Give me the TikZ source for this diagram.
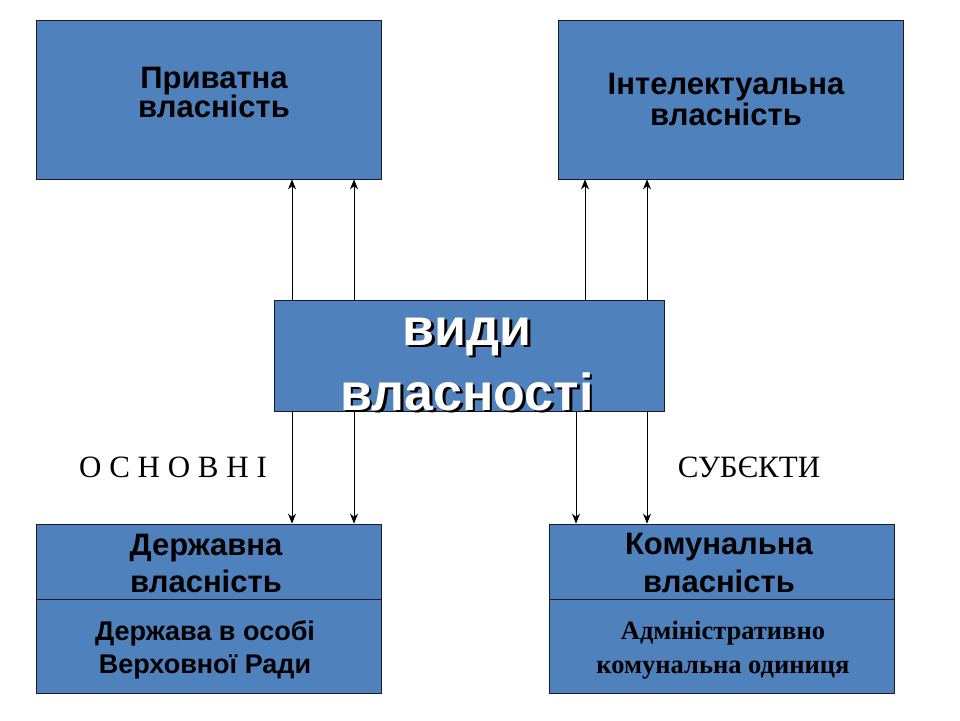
\documentclass[tikz,border=0pt]{standalone}
\usepackage{fontspec}
\setmainfont{Liberation Sans}
\newfontfamily\timesf{Liberation Serif}
\usepackage{tikz}
\usetikzlibrary{positioning,arrows.meta,calc}
\definecolor{vpblue}{HTML}{4F81BD}
\definecolor{vpedge}{HTML}{1A1A2A}
\tikzset{
  vbox/.style  ={draw=vpedge, fill=vpblue, line width=0.8pt, inner sep=0pt},
  vtxt/.style  ={align=center, anchor=base, text=black, inner sep=0pt},
  vside/.style ={font=\timesf\fontsize{31}{33}\selectfont, anchor=base, inner sep=0pt},
  varr/.style  ={-{Stealth[length=10pt,width=8pt]}, line width=0.7pt},
}
\newcommand{\fs}[2]{\fontsize{#1}{#2}\selectfont}
\begin{document}
\begin{tikzpicture}[x=1pt,y=-1pt]
  \useasboundingbox (0,0) rectangle (960,720);
  % top row
  \node[vbox, minimum width=345, minimum height=159] (priv) at (208.5,99.5) {};
  \node[vtxt, font=\bfseries\fs{31}{29}] (privt) at (214,117) {Приватна\\власність};
  \node[vbox, minimum width=345, minimum height=159] (intel) at (730.5,99.5) {};
  \node[vtxt, font=\bfseries\fs{31}{31}] (intelt) at (726,125) {Інтелектуальна\\власність};
  % centre
  \node[vbox, minimum width=390, minimum height=111] (vydy) at (469,355.5) {};
  \node[vtxt, text=black, font=\bfseries\fs{52}{65}] (vydysh) at (469.5,412.5) {види\hspace{10pt}\\власності};
  \node[vtxt, text=white, font=\bfseries\fs{52}{65}] (vydyt) at (467,410) {види\hspace{10pt}\\власності};
  % bottom row
  \node[vbox, minimum width=345, minimum height=75] (derzh) at (208.5,561.5) {};
  \node[vbox, minimum width=345, minimum height=94] (derzhb) at (208.5,646) {};
  \node[vtxt, font=\bfseries\fs{31}{37}] (derzht) at (206,592) {Державна\hspace{6pt}\\власність};
  \node[vtxt, font=\bfseries\fs{27}{33}] (derzhbt) at (205,673) {Держава в особі\\Верховної Ради};
  \node[vbox, minimum width=345, minimum height=75] (komun) at (721.5,561.5) {};
  \node[vbox, minimum width=345, minimum height=94] (komunb) at (721.5,646) {};
  \node[vtxt, font=\bfseries\fs{31}{38}] (komunt) at (719,592) {Комунальна\\власність};
  \node[vtxt, font=\timesf\bfseries\fs{26.5}{34}] (komunbt) at (723,673) {Адміністративно\\комунальна одиниця};
  % labels
  \node[vside] (osn) at (173,477) {О С Н О В Н І};
  \node[vside] (subj) at (749,477) {СУБЄКТИ};
  % arrow columns
  \coordinate (c1) at (292,0);
  \coordinate (c2) at (354,0);
  \coordinate (c3) at (585,0);
  \coordinate (c4) at (647,0);
  \coordinate (c5) at (576,0);
  \draw[varr] (vydy.north -| c1) -- (priv.south -| c1);
  \draw[varr] (vydy.north -| c2) -- (priv.south -| c2);
  \draw[varr] (vydy.north -| c3) -- (intel.south -| c3);
  \draw[varr] (vydy.north -| c4) -- (intel.south -| c4);
  \draw[varr] (vydy.south -| c1) -- (derzh.north -| c1);
  \draw[varr] (vydy.south -| c2) -- (derzh.north -| c2);
  \draw[varr] (vydy.south -| c5) -- (komun.north -| c5);
  \draw[varr] (vydy.south -| c4) -- (komun.north -| c4);
\end{tikzpicture}
\end{document}
